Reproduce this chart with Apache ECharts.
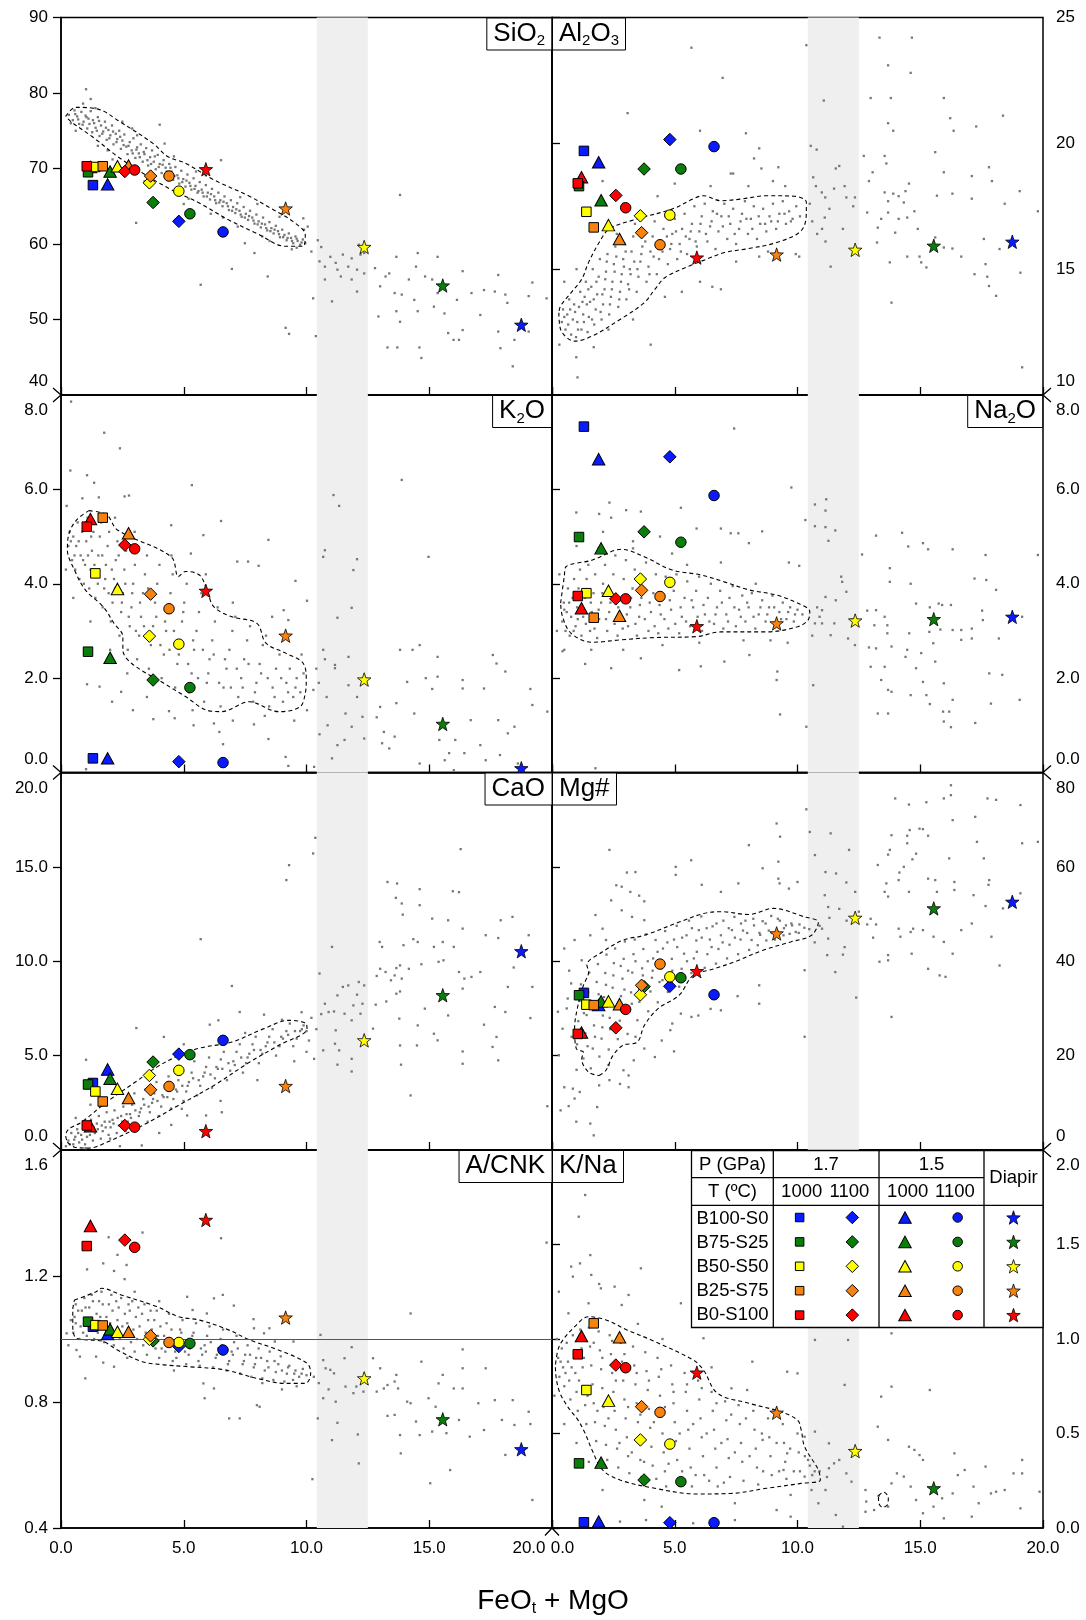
<!DOCTYPE html>
<html>
<head>
<meta charset="utf-8">
<script src="https://cdn.jsdelivr.net/npm/echarts@6/dist/echarts.min.js"></script>
<style>
  html, body { margin: 0; padding: 0; background: #fff; }
  #chart { width: 1086px; height: 1620px; }
</style>
</head>
<body>
<div id="chart"></div>
<script>
// ---- data ----
var compositions = ['B100-S0', 'B75-S25', 'B50-S50', 'B25-S75', 'B0-S100'];
var compColors = ['#0a1cff', '#0b7d0b', '#ffff00', '#f7820f', '#ff0000'];

// FeOt + MgO of each run, per condition (order: compositions)
// sq = 1.7 GPa 1000, di = 1.7 GPa 1100, tr = 1.5 GPa 1000, ci = 1.5 GPa 1100, st = diapir
var runX = {
  sq: [1.3, 1.1, 1.4, 1.7, 1.05],
  di: [4.8, 3.75, 3.6, 3.65, 2.6],
  tr: [1.9, 2.0, 2.3, 2.75, 1.2],
  ci: [6.6, 5.25, 4.8, 4.4, 3.0],
  st: [18.75, 15.55, 12.35, 9.15, 5.9]
};

var sio2Runs = { sq: [67.8, 69.5, 70.2, 70.3, 70.3], di: [63.0, 65.5, 68.1, 69.0, 69.6], tr: [67.9, 69.6, 70.3, 70.4, 70.2], ci: [61.6, 64.0, 67.0, 69.0, 69.8], st: [49.3, 54.5, 59.6, 64.7, 69.9] };
var al2o3Runs = { sq: [19.7, 18.3, 17.28, 16.66, 18.41], di: [20.15, 18.98, 17.12, 16.45, 17.93], tr: [19.25, 17.74, 16.75, 16.2, 18.65], ci: [19.87, 18.98, 17.15, 15.97, 17.44], st: [16.09, 15.93, 15.77, 15.58, 15.46] };
var k2oRuns = { sq: [0.30, 2.56, 4.22, 5.40, 5.21], di: [0.23, 1.96, 2.89, 3.78, 4.82], tr: [0.30, 2.43, 3.89, 5.07, 5.37], ci: [0.21, 1.80, 2.72, 3.47, 4.74], st: [0.09, 1.03, 1.97, 2.90, 3.85] };
var na2oRuns = { sq: [7.33, 4.99, 3.80, 3.28, 3.74], di: [6.69, 5.10, 4.10, 3.86, 3.68], tr: [6.64, 4.75, 3.85, 3.32, 3.48], ci: [5.87, 4.88, 4.03, 3.73, 3.68], st: [3.30, 3.25, 3.22, 3.16, 3.10] };
var caoRuns = { sq: [3.55, 3.47, 3.10, 2.57, 1.30], di: [5.08, 4.66, 3.95, 3.19, 1.30], tr: [4.27, 3.78, 3.24, 2.75, 1.26], ci: [5.81, 5.05, 4.22, 3.37, 1.21], st: [10.53, 8.2, 5.81, 3.39, 1.0] };
var mgRuns = { sq: [33.3, 32.8, 30.8, 30.7, 24.6], di: [34.7, 34.6, 32.9, 34.9, 25.9], tr: [30.7, 31.5, 31.5, 30.9, 24.9], ci: [32.9, 36.5, 36.7, 39.4, 29.8], st: [52.6, 51.2, 49.2, 45.9, 37.9] };
var acnkRuns = { sq: [1.039, 1.055, 1.044, 1.043, 1.295], di: [0.976, 0.994, 0.999, 1.010, 1.314], tr: [1.016, 1.031, 1.023, 1.023, 1.359], ci: [0.965, 0.986, 0.989, 0.989, 1.291], st: [0.650, 0.745, 0.875, 1.068, 1.378] };
var knaRuns = { sq: [0.030, 0.342, 0.730, 1.083, 0.919], di: [0.028, 0.254, 0.466, 0.642, 0.862], tr: [0.034, 0.346, 0.674, 1.009, 1.016], ci: [0.028, 0.245, 0.444, 0.612, 0.848], st: [null, 0.210, 0.407, 0.610, 0.822] };

// shaded FeOt+MgO band and A/CNK = 1 reference
var bandRange = [10.42, 12.5];
var acnkRef = 1.0;

// dashed density outlines
var sio2Outline = [[0.19,76.9],[0.6,78.1],[1.57,77.8],[2.3,76.4],[3.76,73.3],[4.34,71.6],[5.07,70.7],[6.23,68.5],[7.69,66.3],[8.56,64.7],[9.44,63.0],[9.95,61.2],[9.87,59.7],[9.15,59.7],[7.98,61.4],[6.82,63.2],[5.65,65.4],[4.49,67.2],[3.32,69.4],[2.3,71.6],[1.28,74.2],[0.41,76.2]];
var al2o3Outline = [[0.28,13.27],[0.35,12.61],[0.92,12.14],[1.63,12.34],[2.77,13.0],[3.76,13.67],[4.19,14.2],[4.61,14.67],[5.6,15.13],[6.31,15.4],[7.02,15.66],[8.02,15.82],[9.15,16.06],[10.15,16.53],[10.36,17.26],[10.36,17.66],[9.86,17.9],[8.73,17.92],[7.73,17.79],[6.88,17.72],[6.17,17.92],[5.75,17.79],[4.9,17.39],[3.48,17.0],[2.34,16.6],[1.92,16.06],[1.49,15.27],[1.21,14.6],[0.78,14.07],[0.35,13.54]];
var k2oOutline = [[1.14,5.55],[1.86,5.46],[2.3,5.14],[4.49,4.57],[4.78,4.15],[5.07,4.26],[5.65,4.18],[5.94,3.87],[6.23,3.51],[6.96,3.3],[7.98,3.16],[8.35,2.74],[9.15,2.53],[9.87,2.31],[9.99,1.96],[9.95,1.68],[9.73,1.39],[8.86,1.29],[7.98,1.46],[7.69,1.5],[6.52,1.29],[5.94,1.32],[5.07,1.61],[4.19,1.89],[2.88,2.31],[2.52,2.6],[2.52,2.88],[2.16,3.16],[1.72,3.51],[0.99,3.87],[0.55,4.29],[0.26,4.72],[0.33,5.07],[0.63,5.35]];
var na2oOutline = [[0.35,3.59],[0.5,4.15],[0.57,4.36],[1.63,4.5],[2.84,4.73],[3.76,4.57],[4.9,4.29],[6.03,4.19],[7.02,4.04],[8.02,3.87],[9.15,3.76],[10.0,3.59],[10.5,3.41],[10.43,3.23],[10.0,3.09],[8.73,2.98],[6.88,2.98],[5.89,2.88],[4.19,2.86],[2.77,2.81],[1.63,2.76],[0.78,2.95],[0.43,3.3]];
var caoOutline = [[0.26,0.41],[0.55,0.15],[1.14,0.1],[1.86,0.41],[3.32,1.3],[4.78,2.36],[6.23,3.42],[7.69,4.66],[8.86,5.54],[10.02,6.43],[9.99,6.69],[9.29,6.87],[8.27,6.43],[6.96,5.72],[5.65,5.4],[4.78,5.0],[3.9,4.39],[3.03,3.6],[1.86,2.54],[0.84,1.48],[0.33,1.12],[0.19,0.77]];
var mgOutline = [[1.92,15.8],[2.2,16.9],[2.48,20.0],[2.9,22.2],[3.48,22.9],[3.76,26.4],[4.33,30.0],[5.18,32.8],[5.75,37.0],[6.6,38.4],[7.45,39.9],[8.58,42.3],[9.72,44.1],[10.57,45.5],[10.85,48.3],[10.29,49.4],[9.01,51.2],[8.02,49.9],[6.88,50.5],[6.17,50.1],[5.18,48.3],[3.76,45.5],[2.91,44.5],[2.06,42.0],[1.42,39.2],[1.49,37.7],[1.28,34.9],[1.06,30.7],[0.92,25.7],[0.99,21.5],[1.28,20.7],[1.21,19.3],[1.49,16.5]];
var acnkOutline = [[0.55,1.124],[1.43,1.150],[1.65,1.161],[2.45,1.140],[3.9,1.103],[4.78,1.071],[5.65,1.060],[6.82,1.029],[7.69,0.997],[8.86,0.965],[10.02,0.923],[10.17,0.891],[9.95,0.859],[9.15,0.859],[7.98,0.875],[6.67,0.902],[5.21,0.912],[4.19,0.918],[3.32,0.928],[2.3,0.965],[1.72,0.992],[1.14,0.997],[0.63,1.002],[0.48,1.039],[0.48,1.092]];
var knaOutline = [[0.21,0.924],[0.14,0.854],[0.28,0.73],[0.64,0.642],[1.06,0.571],[1.35,0.501],[1.63,0.413],[2.06,0.307],[2.77,0.254],[4.19,0.21],[5.89,0.18],[7.31,0.183],[8.73,0.21],[10.15,0.236],[10.93,0.254],[10.85,0.307],[10.29,0.43],[10.15,0.519],[10.0,0.571],[9.29,0.616],[8.02,0.66],[6.74,0.713],[6.17,0.836],[5.75,0.889],[4.04,0.995],[3.05,1.048],[2.2,1.101],[1.49,1.118],[0.92,1.065],[0.35,0.977]];
var knaSmallLoop = [[13.3,0.17],[13.5,0.19],[13.7,0.16],[13.65,0.12],[13.45,0.11],[13.3,0.14]];

// grey compilation dots: dense core (two passes) + scattered
var sio2Core = [[0.32,77.1],[0.48,76.4],[0.55,77.7],[0.66,76.9],[0.74,75.9],[0.83,77.5],[0.92,76.2],[1.0,77.0],[1.07,75.3],[1.12,76.6],[1.21,77.6],[1.27,74.8],[1.35,76.0],[1.41,75.4],[1.5,76.8],[1.57,74.3],[1.63,75.7],[1.72,74.9],[1.79,76.2],[1.86,73.8],[1.93,75.1],[2.01,74.4],[2.08,75.7],[2.14,73.2],[2.23,74.6],[2.29,73.9],[2.37,75.0],[2.44,72.6],[2.5,73.7],[2.58,74.5],[2.66,72.9],[2.71,71.9],[2.8,73.5],[2.88,72.4],[2.95,74.0],[3.03,71.4],[3.1,72.8],[3.17,72.0],[3.25,73.2],[3.33,70.9],[3.4,71.9],[3.47,72.7],[3.55,70.4],[3.63,71.5],[3.71,72.4],[3.78,70.9],[3.86,69.9],[3.94,71.8],[4.02,70.6],[4.1,69.4],[4.18,71.1],[4.26,70.1],[4.33,68.9],[4.41,70.6],[4.5,69.6],[4.57,68.5],[4.66,70.2],[4.74,69.1],[4.82,68.0],[4.9,69.7],[4.98,68.6],[5.07,67.6],[5.15,69.2],[5.23,68.1],[5.31,67.2],[5.4,68.7],[5.48,67.7],[5.56,66.8],[5.65,68.2],[5.73,67.2],[5.81,66.3],[5.9,67.8],[5.98,66.8],[6.07,65.9],[6.15,67.3],[6.24,66.3],[6.32,65.4],[6.41,66.8],[6.49,65.8],[6.58,65.0],[6.66,66.3],[6.75,65.4],[6.84,64.5],[6.92,65.8],[7.01,64.9],[7.1,64.1],[7.18,65.4],[7.27,64.4],[7.36,63.6],[7.44,64.9],[7.53,64.0],[7.62,63.2],[7.7,64.4],[7.79,63.5],[7.88,62.7],[7.96,63.9],[8.05,63.0],[8.14,62.2],[8.23,63.5],[8.31,62.6],[8.4,61.8],[8.49,62.9],[8.57,62.1],[8.66,61.4],[8.75,62.4],[8.84,61.7],[8.92,60.9],[9.01,61.9],[9.1,61.2],[9.19,60.5],[9.28,61.4],[9.37,60.8],[9.46,60.1],[9.55,61.0],[9.64,60.4],[9.74,59.9],[9.85,60.6],[9.95,60.1],[0.9,78.6],[1.4,78.0],[2.5,76.2],[3.1,74.4],[4.6,71.6],[5.9,69.1],[7.3,66.2],[8.9,63.6],[1.9,72.4],[3.7,68.7],[5.2,66.0],[6.6,63.5],[8.2,61.0],[9.6,59.5]];
var sio2Core2 = [[0.4,76.0],[0.58,77.2],[0.7,76.5],[0.88,75.8],[1.04,76.8],[1.16,75.9],[1.3,76.4],[1.46,75.0],[1.55,76.3],[1.68,74.6],[1.83,75.4],[1.97,74.0],[2.12,74.9],[2.26,73.5],[2.41,74.2],[2.55,73.1],[2.75,73.0],[2.92,72.0],[3.07,72.5],[3.21,71.5],[3.37,72.2],[3.52,71.1],[3.67,70.6],[3.82,71.6],[3.98,70.2],[4.14,70.5],[4.3,69.6],[4.46,70.1],[4.62,69.0],[4.78,68.7],[4.94,68.2],[5.11,68.4],[5.27,67.7],[5.44,67.3],[5.6,67.0],[5.77,66.8],[5.94,66.3],[6.11,66.6],[6.28,65.8],[6.45,65.5],[6.62,65.6],[6.8,65.0],[6.97,64.4],[7.14,64.6],[7.32,63.9],[7.49,63.5],[7.66,63.7],[7.84,63.1],[8.01,62.6],[8.18,62.7],[8.36,62.1],[8.53,61.7],[8.7,61.9],[8.88,61.3],[9.05,60.9],[9.23,60.8],[9.41,60.4],[9.6,60.7],[9.8,60.2]];
var sio2Spread = [[1.02,80.5],[1.21,79.2],[4.02,75.8],[4.22,73.3],[6.52,71.1],[3.06,62.8],[5.69,54.6],[6.96,56.7],[8.42,55.7],[7.88,58.8],[7.49,60.1],[9.87,63.4],[10.05,62.3],[10.46,60.5],[9.15,48.9],[9.29,48.1],[10.27,52.8],[10.38,47.8],[11.04,52.4],[10.53,57.7],[10.75,57.0],[10.97,58.3],[11.19,57.5],[11.26,56.6],[11.48,58.6],[11.7,57.0],[11.84,58.1],[12.06,56.6],[12.2,58.6],[12.35,56.1],[11.84,55.3],[11.4,55.7],[10.75,55.3],[12.06,53.7],[12.13,59.9],[12.35,58.8],[12.79,56.8],[13.0,54.4],[13.22,55.7],[13.37,56.1],[13.66,58.3],[13.59,53.5],[13.66,51.1],[13.81,49.7],[13.88,53.3],[14.17,55.3],[14.53,58.8],[14.46,57.0],[14.39,52.6],[14.53,51.1],[14.83,55.7],[15.12,55.3],[15.34,58.3],[15.34,53.5],[15.19,51.7],[15.62,50.8],[15.77,48.2],[15.99,47.3],[16.21,47.3],[16.13,52.6],[16.36,56.4],[16.36,48.6],[16.72,53.5],[17.08,50.6],[17.23,53.9],[17.67,53.7],[17.81,55.9],[17.81,48.4],[18.1,53.3],[18.18,52.2],[18.4,43.8],[18.47,47.3],[19.05,53.1],[19.2,54.9],[19.05,48.4],[19.78,52.8],[13.3,46.3],[13.7,46.3],[14.6,46.3],[14.68,44.9],[13.81,66.5],[12.93,50.4],[17.9,46.2],[2.1,71.2],[1.5,73.0],[0.6,75.0],[3.4,68.3],[5.0,65.3],[6.1,64.0],[7.2,62.3],[8.5,60.4],[9.4,59.3],[10.2,59.0],[10.6,59.6],[2.9,75.3],[5.5,69.6],[8.0,65.3],[9.9,61.9]];

var al2o3Core = [[0.4,12.9],[0.45,13.4],[0.55,12.6],[0.62,13.2],[0.7,13.8],[0.78,12.4],[0.85,13.0],[0.9,13.6],[0.98,12.3],[1.03,12.9],[1.1,13.5],[1.15,14.1],[1.2,12.6],[1.27,13.2],[1.33,13.9],[1.38,14.5],[1.45,12.5],[1.5,13.1],[1.55,13.7],[1.6,14.3],[1.66,15.0],[1.72,12.8],[1.78,13.4],[1.84,14.0],[1.9,14.7],[1.95,15.4],[2.02,13.0],[2.08,13.6],[2.14,14.2],[2.2,14.9],[2.26,15.6],[2.33,13.2],[2.4,13.9],[2.46,14.5],[2.52,15.2],[2.58,15.9],[2.64,16.4],[2.7,13.5],[2.77,14.1],[2.84,14.8],[2.9,15.4],[2.96,16.0],[3.03,13.8],[3.1,14.4],[3.17,15.0],[3.24,15.7],[3.31,16.3],[3.38,16.8],[3.45,14.1],[3.52,14.7],[3.6,15.3],[3.68,15.9],[3.76,16.5],[3.85,14.5],[3.93,15.1],[4.01,15.7],[4.1,16.3],[4.18,16.9],[4.27,14.8],[4.36,15.4],[4.45,16.0],[4.54,16.6],[4.63,17.1],[4.72,15.2],[4.81,15.8],[4.9,16.4],[5.0,17.0],[5.1,15.4],[5.2,16.0],[5.3,16.6],[5.4,17.2],[5.5,15.6],[5.6,16.2],[5.7,16.8],[5.8,17.5],[5.9,15.9],[6.0,16.5],[6.1,17.1],[6.22,17.6],[6.33,16.1],[6.44,16.7],[6.55,17.3],[6.66,15.8],[6.78,16.5],[6.9,17.1],[7.02,17.6],[7.14,16.2],[7.26,16.8],[7.38,17.4],[7.5,16.0],[7.62,16.6],[7.74,17.2],[7.86,17.7],[7.98,16.4],[8.1,17.0],[8.22,17.5],[8.35,16.2],[8.48,16.8],[8.6,17.4],[8.73,16.5],[8.86,17.1],[9.0,17.6],[9.13,16.6],[9.26,17.2],[9.4,17.7],[9.53,16.8],[9.66,17.3],[9.8,17.0],[9.95,17.5],[10.1,17.1]];
var al2o3Core2 = [[0.5,13.1],[0.66,12.8],[0.74,13.4],[0.94,13.3],[1.06,12.6],[1.24,13.7],[1.3,12.9],[1.42,13.6],[1.48,14.2],[1.63,13.0],[1.7,13.8],[1.81,14.5],[1.98,13.3],[2.05,14.0],[2.17,14.6],[2.23,15.3],[2.36,13.6],[2.44,14.2],[2.55,14.9],[2.62,15.5],[2.74,13.8],[2.81,14.5],[2.93,15.1],[3.0,15.7],[3.14,14.2],[3.2,14.8],[3.35,15.3],[3.48,15.0],[3.64,15.6],[3.8,16.1],[3.97,14.8],[4.14,15.5],[4.32,16.1],[4.5,15.7],[4.68,16.3],[4.86,16.0],[5.05,16.5],[5.25,15.7],[5.45,16.3],[5.65,16.5],[5.85,16.1],[6.05,16.8],[6.27,16.4],[6.5,16.9],[6.72,17.2],[6.96,16.7],[7.2,17.1],[7.44,16.4],[7.68,16.9],[7.92,17.0],[8.16,16.6],[8.42,17.1],[8.68,16.8],[8.93,16.9],[9.2,16.9],[9.47,17.2],[9.73,16.9]];
var al2o3Spread = [[5.68,23.8],[6.95,22.6],[3.08,21.2],[6.03,20.5],[7.9,20.4],[8.44,19.8],[8.23,19.4],[9.22,19.05],[8.53,19.0],[7.38,18.8],[7.28,18.8],[6.46,18.3],[2.06,18.5],[0.99,11.5],[1.04,10.7],[4.02,12.0],[1.7,11.9],[6.03,14.5],[5.29,14.1],[6.88,14.2],[6.53,14.3],[8.44,15.5],[9.93,15.6],[10.07,15.5],[10.36,23.9],[11.07,21.7],[10.54,19.9],[10.78,19.75],[10.64,18.65],[10.75,18.3],[10.99,18.05],[11.13,17.85],[11.11,17.05],[11.49,18.2],[11.56,19.0],[11.7,19.1],[11.92,18.3],[11.99,17.85],[11.85,16.6],[12.27,17.5],[12.34,17.85],[11.14,16.1],[11.35,15.1],[12.7,19.5],[12.98,21.8],[13.69,23.1],[13.34,24.2],[14.66,24.2],[14.61,22.8],[13.8,21.8],[13.69,20.8],[13.9,20.5],[13.55,19.5],[13.62,19.2],[13.06,18.85],[12.91,18.5],[13.55,18.05],[13.9,18.0],[14.12,17.9],[13.69,17.7],[14.54,18.4],[14.4,18.1],[14.33,17.65],[12.84,17.25],[13.41,17.0],[13.69,17.25],[14.12,17.0],[14.47,17.05],[14.76,17.3],[13.27,16.65],[13.98,16.45],[13.24,16.06],[13.76,15.27],[14.47,15.5],[14.9,16.6],[14.97,15.5],[15.04,15.27],[15.25,15.07],[15.61,16.26],[15.68,17.92],[15.96,18.85],[15.61,19.65],[15.96,21.8],[16.22,21.0],[16.36,20.5],[16.31,18.0],[15.96,15.86],[16.31,15.82],[16.67,15.5],[17.1,18.7],[17.1,17.8],[17.28,20.67],[17.8,19.05],[17.92,18.5],[18.37,21.1],[18.44,17.6],[17.59,16.2],[17.21,14.8],[17.66,15.2],[17.73,14.7],[17.8,14.33],[18.09,13.94],[18.23,15.8],[19.08,14.86],[19.05,18.1],[19.15,11.1],[19.79,17.3],[13.83,13.67],[10.5,17.6],[10.6,16.9],[10.8,16.4],[11.3,17.4],[9.5,18.3],[9.0,18.5],[8.0,18.3],[5.0,18.4],[4.3,17.9],[2.9,17.6],[1.0,15.0],[0.5,14.5],[0.3,12.0],[2.3,12.6],[3.3,13.0],[4.6,13.9],[7.5,15.3],[8.8,15.7],[11.0,16.6]];

var k2oCore = [[0.3,4.8],[0.35,5.1],[0.45,4.5],[0.5,5.0],[0.58,4.3],[0.62,4.8],[0.68,5.3],[0.75,4.1],[0.8,4.6],[0.86,5.1],[0.93,4.0],[0.98,4.4],[1.03,4.9],[1.08,5.4],[1.15,3.9],[1.2,4.3],[1.26,4.7],[1.32,5.1],[1.4,3.7],[1.46,4.2],[1.52,4.6],[1.58,5.0],[1.64,5.3],[1.7,3.5],[1.76,3.9],[1.83,4.4],[1.9,4.8],[1.96,5.1],[2.03,3.2],[2.1,3.6],[2.16,4.1],[2.23,4.5],[2.3,4.9],[2.38,2.9],[2.45,3.4],[2.52,3.8],[2.58,4.3],[2.65,4.7],[2.72,2.6],[2.8,3.1],[2.87,3.5],[2.94,4.0],[3.01,4.4],[3.1,2.4],[3.18,2.9],[3.26,3.3],[3.34,3.8],[3.42,4.2],[3.5,4.6],[3.58,2.2],[3.66,2.7],[3.75,3.1],[3.83,3.6],[3.92,4.0],[4.01,4.4],[4.1,2.0],[4.19,2.5],[4.28,3.0],[4.37,3.4],[4.46,3.8],[4.55,4.2],[4.65,1.8],[4.74,2.3],[4.84,2.8],[4.93,3.2],[5.02,3.6],[5.12,4.0],[5.22,1.7],[5.32,2.1],[5.42,2.6],[5.52,3.0],[5.62,3.4],[5.72,3.8],[5.83,1.5],[5.94,1.9],[6.05,2.4],[6.16,2.8],[6.27,3.2],[6.38,3.5],[6.5,1.4],[6.62,1.8],[6.74,2.2],[6.86,2.6],[6.98,3.0],[7.1,3.3],[7.22,1.6],[7.34,2.0],[7.46,2.4],[7.58,2.8],[7.7,3.1],[7.83,1.5],[7.96,1.9],[8.09,2.3],[8.22,2.7],[8.35,2.9],[8.48,1.4],[8.62,1.8],[8.76,2.2],[8.9,2.5],[9.04,1.5],[9.18,1.9],[9.32,2.2],[9.46,1.6],[9.6,2.0],[9.75,1.7],[9.88,2.1]];
var k2oCore2 = [[0.4,4.9],[0.55,4.6],[0.72,4.9],[0.9,4.5],[1.1,4.6],[1.23,5.0],[1.36,4.4],[1.5,4.0],[1.68,4.6],[1.8,4.1],[1.94,3.8],[2.07,4.3],[2.2,3.9],[2.35,4.6],[2.48,3.6],[2.62,4.0],[2.76,3.3],[2.9,3.8],[3.05,3.0],[3.22,3.6],[3.38,3.1],[3.55,3.9],[3.7,2.9],[3.88,3.3],[4.05,2.7],[4.24,3.2],[4.42,2.6],[4.6,3.0],[4.8,2.5],[4.98,3.4],[5.18,2.3],[5.38,2.8],[5.58,2.0],[5.78,2.6],[6.0,2.1],[6.22,2.5],[6.44,1.9],[6.68,2.4],[6.92,1.8],[7.16,2.2],[7.4,1.8],[7.64,2.3],[7.9,1.7],[8.15,2.1],[8.42,2.0],[8.7,1.6],[8.97,2.0],[9.25,1.7],[9.55,1.8]];
var k2oSpread = [[0.41,7.86],[1.76,7.2],[2.4,6.87],[0.38,6.4],[1.06,6.3],[1.35,6.14],[0.23,5.65],[0.87,5.81],[1.54,5.83],[2.59,5.85],[2.77,5.87],[5.33,6.09],[6.52,5.33],[4.49,5.24],[5.8,5.03],[5.29,4.64],[7.18,4.47],[7.62,4.47],[8.05,4.38],[8.45,4.93],[9.55,4.06],[10.02,3.64],[9.07,3.44],[9.26,3.23],[1.06,1.87],[1.57,1.82],[1.02,0.07],[2.08,1.5],[2.45,1.71],[2.93,1.32],[3.76,1.13],[4.63,1.15],[5.36,1.32],[6.23,1.04],[6.45,0.86],[6.6,0.6],[7.86,1.02],[8.45,0.71],[9.15,0.33],[9.26,0.14],[10.02,1.32],[10.28,1.75],[10.31,0.12],[10.53,0.81],[10.68,4.57],[10.75,4.71],[11.1,5.88],[11.33,5.65],[11.26,3.28],[11.84,3.49],[11.91,4.29],[12.06,4.52],[10.68,2.6],[10.75,2.4],[11.16,2.28],[11.16,2.21],[11.71,2.45],[11.71,1.85],[10.82,1.6],[10.86,1.0],[11.04,0.3],[11.26,0.58],[11.55,0.69],[11.59,1.25],[11.84,0.97],[12.06,1.6],[12.28,1.18],[12.35,0.72],[12.86,1.17],[13.0,1.39],[13.15,0.86],[13.08,0.62],[13.37,0.51],[13.59,0.76],[13.66,1.47],[13.81,2.6],[13.88,6.2],[14.1,1.92],[14.32,2.6],[14.39,1.25],[14.61,2.7],[14.61,0.19],[14.86,2.0],[14.97,4.57],[15.12,1.77],[15.34,2.45],[15.34,2.03],[15.41,0.69],[15.63,0.26],[15.81,0.41],[16.0,0.05],[16.06,0.69],[16.36,1.96],[16.36,1.78],[16.43,0.41],[16.69,1.11],[17.08,0.58],[17.23,1.78],[17.3,0.26],[17.59,2.49],[17.74,2.31],[17.81,1.11],[17.88,0.37],[18.1,2.14],[18.2,0.83],[18.47,0.97],[18.61,0.19],[19.12,1.77],[19.2,1.43],[19.81,1.29],[10.4,2.2],[10.5,1.9],[9.8,2.5],[8.6,3.3],[7.0,3.6],[5.9,4.2],[4.5,4.6],[3.0,5.1],[2.2,5.4],[0.2,4.3],[0.5,3.7],[1.2,3.2],[2.0,2.6],[2.7,2.1],[3.5,1.6],[4.4,1.3],[5.4,1.0],[7.0,1.1],[8.3,1.2],[9.5,1.1]];

var na2oCore = [[0.42,3.2],[0.48,3.6],[0.55,3.0],[0.6,3.4],[0.65,3.9],[0.72,2.9],[0.78,3.3],[0.84,3.7],[0.9,4.1],[0.96,3.1],[1.02,3.5],[1.08,3.9],[1.14,4.3],[1.2,2.9],[1.27,3.3],[1.34,3.7],[1.41,4.1],[1.48,4.4],[1.55,3.0],[1.62,3.4],[1.69,3.8],[1.76,4.2],[1.84,2.85],[1.92,3.25],[2.0,3.6],[2.08,4.0],[2.16,4.4],[2.25,3.0],[2.33,3.4],[2.41,3.8],[2.5,4.2],[2.58,4.6],[2.67,2.9],[2.75,3.3],[2.84,3.7],[2.92,4.1],[3.01,4.5],[3.1,3.1],[3.19,3.5],[3.28,3.9],[3.37,4.3],[3.46,2.9],[3.55,3.3],[3.64,3.7],[3.74,4.1],[3.83,4.45],[3.93,3.0],[4.03,3.4],[4.13,3.8],[4.23,4.2],[4.33,2.95],[4.43,3.35],[4.53,3.75],[4.63,4.15],[4.74,3.05],[4.85,3.45],[4.96,3.85],[5.07,4.2],[5.18,2.95],[5.29,3.3],[5.4,3.7],[5.51,4.05],[5.63,3.1],[5.75,3.5],[5.87,3.85],[5.99,4.15],[6.11,3.0],[6.23,3.35],[6.35,3.7],[6.47,4.0],[6.6,3.15],[6.72,3.5],[6.85,3.85],[6.98,3.05],[7.1,3.35],[7.23,3.7],[7.36,3.95],[7.49,3.1],[7.62,3.45],[7.75,3.75],[7.88,3.2],[8.01,3.5],[8.14,3.8],[8.28,3.05],[8.42,3.35],[8.56,3.65],[8.7,3.2],[8.84,3.5],[8.98,3.75],[9.12,3.1],[9.26,3.4],[9.4,3.6],[9.55,3.25],[9.7,3.5],[9.85,3.2],[10.0,3.45],[10.2,3.35],[0.5,2.6],[1.6,2.6],[2.9,2.6],[4.5,2.7],[6.0,2.75],[7.8,2.8],[3.3,4.75],[1.9,4.75],[5.5,4.4],[8.3,4.0]];
var na2oCore2 = [[0.5,3.45],[0.7,3.6],[0.88,3.0],[1.05,3.25],[1.22,3.55],[1.38,3.15],[1.58,3.6],[1.73,3.05],[1.9,3.45],[2.05,3.8],[2.2,3.25],[2.38,3.6],[2.55,3.15],[2.7,3.5],[2.88,3.05],[3.05,3.35],[3.22,3.7],[3.4,3.15],[3.58,3.55],[3.78,3.25],[3.98,3.6],[4.18,3.1],[4.38,3.55],[4.58,3.25],[4.8,3.65],[5.02,3.15],[5.24,3.5],[5.46,3.2],[5.69,3.65],[5.93,3.3],[6.17,3.55],[6.41,3.2],[6.66,3.35],[6.92,3.6],[7.17,3.2],[7.43,3.5],[7.69,3.3],[7.95,3.6],[8.21,3.3],[8.49,3.5],[8.77,3.35],[9.05,3.5],[9.33,3.25],[9.62,3.4],[9.9,3.35]];
var na2oSpread = [[7.42,7.29],[9.75,6.04],[10.71,5.68],[11.17,5.79],[11.14,5.55],[10.32,5.35],[10.71,5.22],[11.14,5.2],[11.54,5.13],[11.26,4.91],[0.99,5.51],[1.92,5.48],[2.34,5.72],[3.02,5.56],[3.62,5.53],[2.41,5.4],[2.08,5.1],[5.25,5.61],[4.89,4.64],[5.89,5.17],[6.88,5.17],[7.28,5.07],[7.59,5.07],[8.56,5.11],[8.02,4.86],[6.88,4.45],[9.65,4.45],[10.07,4.38],[12.63,4.62],[13.2,5.02],[14.26,5.08],[14.51,4.79],[15.11,4.86],[15.32,4.73],[16.32,4.73],[17.66,4.61],[19.79,4.61],[17.21,4.11],[17.69,4.08],[18.09,3.87],[17.52,3.43],[16.25,3.55],[15.89,3.55],[14.83,3.58],[14.61,4.0],[13.76,4.04],[13.76,4.33],[11.78,4.15],[11.82,4.04],[11.99,3.83],[11.14,3.72],[11.56,3.65],[11.0,3.44],[10.71,3.16],[11.0,3.16],[11.5,3.16],[11.35,2.91],[12.06,2.84],[12.34,2.7],[12.84,3.43],[13.2,3.44],[13.55,3.3],[13.13,3.12],[13.66,3.12],[13.66,2.95],[13.83,2.67],[12.91,2.65],[13.2,2.63],[12.98,2.24],[13.55,2.24],[13.41,1.96],[13.69,1.75],[13.83,1.71],[13.27,1.25],[13.69,1.25],[14.55,2.95],[14.47,2.6],[14.4,2.45],[14.61,1.64],[14.83,2.21],[15.04,2.53],[15.11,1.92],[15.25,1.64],[15.39,1.45],[15.61,2.35],[15.53,2.74],[15.96,1.89],[15.93,1.29],[15.96,1.08],[16.18,1.29],[16.25,0.96],[16.32,1.54],[16.67,2.81],[17.1,2.84],[17.24,1.05],[17.81,2.1],[17.88,1.46],[18.2,2.84],[18.34,2.07],[19.05,1.54],[19.15,3.3],[15.75,3.58],[15.39,3.5],[15.82,3.03],[15.37,2.98],[16.32,3.02],[16.67,3.02],[17.1,3.05],[17.55,3.23],[10.36,0.97],[10.64,1.85],[9.29,1.23],[9.15,1.96],[9.18,2.14],[5.18,2.17],[6.06,2.25],[7.02,2.35],[8.04,2.49],[2.41,2.21],[1.35,2.3],[0.43,2.57],[1.77,0.09],[3.62,2.42],[10.8,3.5],[10.9,3.3],[10.6,2.9],[12.2,3.25],[9.6,2.75],[8.9,2.8],[1.0,4.8],[3.3,4.9],[4.4,5.0],[0.3,4.2],[0.2,3.0]];

var caoCore = [[0.3,0.5],[0.42,0.9],[0.5,0.3],[0.58,0.7],[0.66,1.1],[0.74,0.4],[0.82,0.8],[0.9,1.3],[0.98,0.3],[1.06,0.7],[1.14,1.1],[1.22,1.6],[1.3,0.5],[1.38,0.9],[1.46,1.4],[1.54,1.8],[1.62,0.6],[1.7,1.0],[1.78,1.5],[1.86,2.0],[1.94,0.8],[2.02,1.2],[2.1,1.6],[2.18,2.1],[2.27,0.9],[2.36,1.3],[2.45,1.8],[2.54,2.3],[2.63,1.0],[2.72,1.5],[2.81,1.9],[2.9,2.4],[2.99,3.0],[3.08,1.3],[3.17,1.8],[3.26,2.2],[3.35,2.7],[3.44,3.2],[3.53,1.5],[3.62,2.0],[3.71,2.5],[3.8,3.0],[3.89,3.6],[3.98,1.8],[4.08,2.3],[4.18,2.8],[4.28,3.3],[4.38,3.9],[4.48,2.2],[4.58,2.7],[4.68,3.2],[4.78,3.7],[4.88,4.3],[4.99,2.6],[5.1,3.1],[5.21,3.6],[5.32,4.1],[5.43,4.7],[5.55,2.9],[5.67,3.4],[5.79,3.9],[5.91,4.4],[6.03,4.9],[6.15,3.3],[6.27,3.8],[6.39,4.3],[6.51,4.8],[6.63,5.2],[6.76,3.7],[6.89,4.2],[7.02,4.7],[7.15,5.2],[7.28,5.6],[7.41,4.1],[7.54,4.6],[7.67,5.1],[7.8,5.6],[7.93,6.0],[8.06,4.6],[8.2,5.1],[8.34,5.5],[8.48,6.0],[8.62,6.4],[8.76,5.0],[8.9,5.5],[9.04,5.9],[9.18,6.3],[9.32,6.7],[9.46,5.5],[9.6,5.9],[9.74,6.3],[9.88,6.6],[10.0,6.3],[1.0,0.1],[2.0,0.6],[3.0,1.0],[0.2,0.2]];
var caoCore2 = [[0.36,0.3],[0.54,0.55],[0.7,0.9],[0.86,0.55],[1.02,1.0],[1.18,0.8],[1.34,1.2],[1.5,1.1],[1.66,1.3],[1.82,1.2],[1.98,1.5],[2.14,1.4],[2.31,1.7],[2.49,1.5],[2.67,1.9],[2.85,1.7],[3.03,2.1],[3.21,2.0],[3.39,2.4],[3.57,2.3],[3.75,2.7],[3.93,2.6],[4.13,2.9],[4.33,2.8],[4.53,3.3],[4.73,3.1],[4.94,3.4],[5.16,3.4],[5.38,3.8],[5.61,3.7],[5.85,4.1],[6.09,4.0],[6.33,4.4],[6.57,4.3],[6.82,4.6],[7.08,4.5],[7.34,4.9],[7.6,4.9],[7.86,5.3],[8.13,5.3],[8.41,5.7],[8.69,5.7],[8.97,6.0],[9.25,6.1],[9.53,6.3],[9.81,6.4]];
var caoSpread = [[10.36,16.54],[10.27,15.71],[9.29,15.09],[9.18,14.3],[5.69,11.17],[6.96,8.69],[7.28,7.31],[8.27,7.17],[6.41,6.87],[6.06,6.64],[4.19,5.99],[3.07,6.46],[1.02,4.78],[4.49,1.33],[4.92,2.18],[5.14,1.83],[5.91,1.83],[6.55,2.0],[3.29,0.24],[10.53,9.35],[11.04,10.76],[10.75,7.75],[10.9,7.31],[11.12,7.34],[11.26,8.19],[11.48,8.64],[11.7,8.72],[11.91,7.66],[11.55,7.22],[12.13,8.9],[12.35,8.72],[12.06,8.23],[12.28,7.75],[12.2,7.22],[11.84,6.87],[11.19,6.34],[11.33,5.28],[11.16,5.63],[10.68,5.28],[10.31,4.83],[11.26,4.52],[11.84,4.83],[11.84,4.16],[12.71,6.43],[12.86,9.22],[12.98,11.02],[13.08,10.76],[13.3,14.2],[13.69,14.12],[13.64,13.36],[13.88,13.06],[13.0,9.6],[13.22,9.43],[13.44,8.99],[13.59,9.25],[13.66,9.64],[13.88,9.08],[13.81,9.78],[14.17,9.6],[14.35,11.17],[14.53,11.02],[14.61,13.82],[14.61,12.97],[13.92,12.47],[14.68,9.84],[13.95,10.85],[13.81,8.4],[13.66,8.28],[13.78,6.96],[13.25,7.87],[12.82,7.7],[13.81,5.54],[13.85,4.52],[14.24,2.89],[14.53,6.6],[14.5,5.54],[14.82,7.49],[15.12,12.26],[15.19,10.76],[15.38,9.97],[15.55,11.02],[15.58,10.05],[15.77,12.17],[15.96,13.71],[16.21,13.66],[16.28,15.94],[16.36,11.73],[16.0,10.76],[16.21,9.43],[16.36,8.55],[15.77,7.13],[15.19,6.16],[15.34,5.81],[16.36,5.22],[16.36,4.57],[16.43,9.08],[16.72,9.17],[17.08,9.43],[17.23,6.64],[17.3,11.38],[17.81,11.23],[17.67,7.58],[17.74,5.99],[17.58,5.46],[17.81,4.75],[17.91,12.17],[18.1,7.31],[18.2,8.64],[18.39,12.35],[18.44,9.67],[19.05,11.38],[19.12,6.99],[19.2,8.64],[19.81,2.32],[10.2,7.0],[10.4,6.4],[10.6,7.2],[10.1,5.8],[9.8,7.3],[9.0,6.9],[7.5,6.2],[5.0,5.6],[3.8,4.8],[2.2,3.0],[1.2,2.4],[0.6,1.7],[2.4,0.2],[4.0,0.9],[6.5,2.6],[8.0,3.7],[9.5,4.7],[10.0,5.2]];

var mgCore = [[1.02,22.4],[1.07,27.3],[1.12,31.6],[1.18,35.1],[1.28,19.4],[1.36,24.7],[1.41,28.6],[1.47,33.5],[1.52,37.6],[1.58,17.3],[1.66,21.5],[1.71,26.4],[1.77,30.5],[1.82,35.6],[1.87,39.4],[1.93,19.8],[2.02,23.6],[2.07,28.5],[2.12,32.4],[2.17,37.5],[2.22,41.4],[2.31,21.3],[2.37,25.6],[2.42,30.7],[2.47,34.4],[2.52,39.6],[2.57,42.7],[2.68,23.5],[2.76,27.4],[2.81,32.6],[2.87,36.3],[2.92,40.5],[2.97,44.2],[3.08,24.6],[3.16,29.5],[3.22,33.4],[3.27,37.6],[3.32,41.5],[3.37,44.6],[3.48,27.5],[3.56,31.4],[3.62,35.6],[3.67,38.5],[3.72,42.6],[3.82,45.7],[3.92,29.4],[4.01,33.6],[4.07,36.5],[4.12,40.6],[4.22,44.5],[4.31,31.3],[4.38,35.6],[4.46,38.5],[4.52,42.7],[4.61,46.4],[4.72,33.5],[4.79,36.6],[4.88,40.5],[4.97,44.6],[5.08,47.5],[5.18,34.6],[5.28,38.4],[5.38,41.6],[5.48,45.5],[5.58,48.6],[5.68,37.5],[5.78,40.6],[5.88,44.4],[5.98,46.6],[6.08,49.5],[6.22,38.6],[6.33,41.5],[6.43,44.6],[6.54,47.4],[6.68,39.5],[6.78,42.6],[6.88,45.5],[6.98,48.6],[7.13,40.6],[7.23,43.5],[7.33,46.6],[7.43,49.4],[7.58,41.5],[7.68,44.6],[7.78,46.5],[7.88,48.6],[8.03,42.4],[8.13,44.5],[8.23,47.6],[8.38,43.4],[8.48,45.6],[8.58,48.5],[8.73,44.4],[8.83,46.5],[8.93,49.6],[9.08,44.6],[9.18,46.4],[9.28,48.6],[9.43,45.5],[9.53,47.6],[9.68,45.8],[9.78,47.6],[9.93,46.2],[10.08,47.8],[10.28,47.1],[10.48,46.8]];
var mgCore2 = [[1.15,25],[1.3,29],[1.45,22],[1.6,31],[1.75,24],[1.9,33],[2.05,26],[2.2,35],[2.35,28],[2.5,37],[2.65,30],[2.8,39],[2.95,34],[3.1,38],[3.25,31],[3.4,40],[3.55,34],[3.7,37],[3.9,40],[4.1,38],[4.3,42],[4.5,36],[4.7,44],[4.9,38],[5.1,43],[5.3,45],[5.5,40],[5.7,47],[5.9,42],[6.1,45],[6.3,47],[6.5,43],[6.7,48],[6.95,44],[7.2,47],[7.45,45],[7.7,48],[7.95,46],[8.2,49],[8.45,46],[8.7,48],[8.95,46],[9.2,49],[9.45,47],[9.75,48],[10.05,46]];
var mgSpread = [[0.68,9.3],[1.7,3.1],[0.35,8.4],[0.92,10.9],[1.13,12.3],[0.85,13.0],[1.56,5.6],[1.84,9.1],[0.99,6.0],[0.5,13.3],[0.28,20.1],[0.43,25.7],[0.24,29.3],[0.64,32.1],[0.78,35.3],[0.5,42.7],[0.92,44.5],[1.21,40.2],[2.34,63.6],[3.05,58.8],[3.4,58.9],[2.62,56.1],[2.84,55.8],[3.19,54.7],[3.55,53.9],[3.76,52.7],[2.41,52.9],[2.84,50.8],[3.26,49.4],[3.76,48.7],[1.77,49.8],[2.06,46.9],[2.2,44.5],[1.56,45.5],[5.04,60.0],[5.04,58.3],[5.67,61.4],[6.1,56.2],[6.88,54.7],[7.59,56.5],[8.02,64.6],[8.58,59.7],[9.15,69.2],[9.29,66.4],[9.22,61.1],[9.22,57.5],[9.27,56.5],[9.65,55.4],[10.0,56.8],[10.36,72.2],[10.5,67.4],[10.71,62.5],[11.14,58.9],[11.35,67.1],[11.57,58.6],[12.1,63.6],[11.99,56.7],[12.35,54.7],[11.11,54.0],[11.25,51.5],[11.7,51.1],[11.0,46.9],[11.25,44.8],[11.92,43.0],[11.85,41.4],[11.21,41.3],[11.54,37.7],[10.29,38.1],[8.44,34.9],[8.44,31.0],[7.56,32.6],[6.88,29.6],[6.46,29.9],[5.96,28.5],[5.68,28.2],[5.25,28.9],[4.9,26.8],[4.82,25.4],[4.47,23.2],[4.19,19.7],[4.97,20.9],[3.76,21.5],[3.33,19.0],[2.91,16.9],[3.12,15.8],[2.77,14.0],[3.12,13.3],[2.34,14.8],[1.92,13.7],[10.29,24.0],[12.39,32.3],[13.83,28.2],[12.98,49.0],[12.84,47.8],[13.2,47.8],[13.08,45.0],[13.34,39.9],[13.69,41.3],[13.69,40.2],[14.12,46.9],[14.19,45.2],[14.61,46.2],[14.65,41.6],[14.71,46.9],[15.11,46.6],[15.32,38.4],[15.79,37.0],[16.03,36.7],[15.54,45.2],[15.96,44.1],[16.32,41.6],[16.67,46.6],[17.1,48.0],[17.9,45.2],[18.23,39.1],[18.37,51.2],[17.66,51.7],[13.69,53.7],[13.55,54.7],[13.62,56.5],[13.27,60.4],[13.69,62.6],[13.76,63.6],[13.83,66.7],[13.98,74.5],[14.47,65.0],[14.47,66.6],[14.57,67.8],[14.97,68.1],[15.11,68.0],[15.32,66.6],[14.83,62.8],[14.68,61.6],[14.33,60.0],[14.15,58.8],[14.12,57.2],[14.54,54.7],[15.32,57.5],[15.61,57.2],[15.68,54.7],[16.18,61.8],[16.39,56.8],[16.39,55.1],[17.17,54.0],[17.59,61.8],[17.81,57.2],[17.78,56.2],[17.31,65.3],[19.15,65.0],[19.79,65.3],[19.08,54.4],[14.54,73.2],[15.25,73.7],[15.96,74.5],[16.25,75.2],[16.25,77.3],[16.32,69.9],[17.24,70.6],[17.74,74.5],[18.09,74.2],[19.08,73.1],[10.9,47.5],[11.3,49.2],[12.0,48.6],[12.5,50.5],[10.7,44.0],[0.7,38.0],[0.6,30.0],[0.8,24.0],[1.0,17.0],[2.3,18.0],[3.4,24.0]];

var acnkCore = [[0.5,1.02],[0.55,1.07],[0.6,1.11],[0.75,1.00],[0.8,1.04],[0.85,1.09],[0.95,1.13],[1.05,1.01],[1.1,1.06],[1.15,1.10],[1.25,1.14],[1.35,1.00],[1.4,1.04],[1.45,1.08],[1.55,1.12],[1.65,1.15],[1.75,0.99],[1.8,1.03],[1.85,1.07],[1.95,1.11],[2.05,1.14],[2.15,0.98],[2.2,1.02],[2.3,1.06],[2.35,1.10],[2.45,1.13],[2.55,0.97],[2.65,1.01],[2.7,1.05],[2.8,1.09],[2.9,1.12],[3.0,0.96],[3.1,1.00],[3.2,1.04],[3.3,1.08],[3.4,1.11],[3.5,0.95],[3.6,0.99],[3.7,1.03],[3.8,1.06],[3.9,1.09],[4.0,0.94],[4.1,0.97],[4.2,1.01],[4.3,1.05],[4.4,1.08],[4.55,0.93],[4.65,0.96],[4.75,1.00],[4.85,1.03],[4.95,1.06],[5.1,0.92],[5.2,0.95],[5.3,0.99],[5.4,1.02],[5.5,1.05],[5.65,0.915],[5.75,0.95],[5.85,0.98],[5.95,1.01],[6.05,1.04],[6.2,0.91],[6.3,0.94],[6.4,0.97],[6.5,1.00],[6.6,1.03],[6.75,0.90],[6.85,0.93],[6.95,0.96],[7.05,0.99],[7.15,1.01],[7.3,0.89],[7.4,0.92],[7.5,0.95],[7.6,0.98],[7.75,0.88],[7.85,0.91],[7.95,0.94],[8.05,0.97],[8.2,0.875],[8.3,0.90],[8.4,0.93],[8.5,0.96],[8.65,0.87],[8.75,0.895],[8.85,0.92],[8.95,0.945],[9.1,0.865],[9.2,0.89],[9.3,0.915],[9.45,0.87],[9.55,0.90],[9.7,0.88],[9.85,0.905],[10.0,0.885]];
var acnkCore2 = [[0.6,1.05],[0.7,1.09],[0.9,1.02],[1.0,1.10],[1.2,1.03],[1.3,1.12],[1.5,1.02],[1.6,1.07],[1.7,1.11],[1.9,1.01],[2.0,1.05],[2.1,1.09],[2.25,1.12],[2.4,1.00],[2.5,1.04],[2.6,1.08],[2.75,1.11],[2.85,0.99],[2.95,1.03],[3.05,1.07],[3.15,1.10],[3.35,0.98],[3.45,1.02],[3.55,1.06],[3.65,1.09],[3.85,0.97],[3.95,1.01],[4.05,1.04],[4.25,0.96],[4.35,1.00],[4.5,1.03],[4.7,0.94],[4.8,0.98],[4.9,1.02],[5.05,0.96],[5.25,0.97],[5.35,1.01],[5.6,0.93],[5.7,0.97],[5.9,0.96],[6.1,0.99],[6.35,0.95],[6.55,0.98],[6.8,0.92],[7.0,0.95],[7.2,0.97],[7.45,0.93],[7.7,0.95],[7.9,0.92],[8.15,0.94],[8.45,0.91],[8.7,0.93],[9.0,0.90],[9.25,0.91],[9.5,0.89],[9.8,0.89]];
var acnkSpread = [[3.32,1.338],[1.94,1.323],[2.3,1.267],[1.06,1.221],[1.72,1.24],[2.16,1.216],[2.67,1.235],[2.59,1.19],[6.52,1.32],[6.59,1.14],[6.23,1.129],[5.14,1.134],[7.04,1.106],[5.36,1.092],[5.94,1.081],[7.84,1.063],[7.86,1.034],[8.27,1.018],[8.49,1.034],[8.71,0.992],[9.47,0.992],[10.57,1.013],[7.98,0.79],[8.09,0.785],[6.85,0.748],[7.28,0.748],[5.8,0.859],[6.23,0.843],[5.85,0.812],[0.99,0.875],[1.72,0.925],[2.16,0.912],[1.43,0.944],[0.77,0.944],[0.63,0.965],[0.23,1.018],[14.24,1.081],[10.24,0.555],[10.68,0.933],[10.78,0.907],[10.97,0.902],[11.12,0.891],[10.68,0.812],[10.46,0.748],[11.19,0.801],[11.26,0.734],[11.04,0.679],[11.55,0.939],[11.84,0.974],[11.59,0.849],[12.03,0.849],[11.91,0.828],[12.32,0.833],[12.09,0.697],[12.13,0.605],[12.71,0.939],[13.0,0.907],[12.86,0.833],[13.15,0.843],[13.3,0.854],[13.59,0.865],[13.73,0.843],[13.66,0.886],[13.3,0.756],[13.59,0.759],[13.81,0.695],[13.84,0.637],[14.1,0.801],[14.24,0.796],[14.46,0.738],[14.61,0.695],[14.68,0.928],[14.97,0.812],[15.12,0.706],[15.26,0.785],[15.38,0.859],[15.55,0.886],[15.7,0.701],[15.85,0.584],[15.04,0.542],[16.0,0.843],[16.21,0.743],[16.36,0.967],[16.36,0.907],[16.36,0.843],[16.65,0.69],[17.23,0.711],[17.0,0.796],[17.3,0.907],[17.96,0.743],[17.67,0.806],[18.4,0.806],[18.47,0.727],[18.1,0.632],[19.05,0.769],[19.12,0.73],[19.2,0.489],[19.78,1.306],[10.3,0.88],[10.5,0.86],[10.9,0.84],[9.6,0.85],[9.0,0.84],[8.2,0.86],[4.0,1.12],[3.0,1.15],[0.4,1.06],[0.3,0.98],[2.7,0.94],[4.6,0.9]];

var knaCore = [[0.25,0.90],[0.3,0.80],[0.4,0.95],[0.45,0.85],[0.5,0.75],[0.6,0.98],[0.65,0.88],[0.7,0.78],[0.75,0.68],[0.85,1.02],[0.9,0.92],[0.95,0.82],[1.0,0.72],[1.05,0.62],[1.15,1.05],[1.2,0.95],[1.25,0.85],[1.3,0.75],[1.35,0.65],[1.4,0.55],[1.5,1.06],[1.55,0.96],[1.6,0.86],[1.65,0.76],[1.7,0.66],[1.75,0.56],[1.8,0.46],[1.9,1.04],[1.95,0.94],[2.0,0.84],[2.05,0.74],[2.1,0.64],[2.15,0.54],[2.2,0.44],[2.25,0.36],[2.35,1.02],[2.4,0.92],[2.45,0.82],[2.5,0.72],[2.55,0.62],[2.6,0.52],[2.65,0.42],[2.7,0.32],[2.8,0.98],[2.85,0.88],[2.9,0.78],[2.95,0.68],[3.0,0.58],[3.05,0.48],[3.1,0.38],[3.15,0.29],[3.3,0.96],[3.35,0.86],[3.4,0.76],[3.45,0.66],[3.5,0.56],[3.55,0.46],[3.6,0.36],[3.65,0.27],[3.8,0.93],[3.85,0.83],[3.9,0.73],[3.95,0.63],[4.0,0.53],[4.05,0.43],[4.1,0.33],[4.3,0.90],[4.35,0.80],[4.4,0.70],[4.45,0.60],[4.5,0.50],[4.55,0.40],[4.6,0.30],[4.65,0.22],[4.85,0.86],[4.9,0.76],[4.95,0.66],[5.0,0.56],[5.05,0.46],[5.1,0.36],[5.15,0.26],[5.4,0.82],[5.45,0.72],[5.5,0.62],[5.55,0.52],[5.6,0.42],[5.65,0.32],[5.7,0.22],[5.95,0.78],[6.0,0.68],[6.05,0.58],[6.1,0.48],[6.15,0.38],[6.2,0.28],[6.5,0.72],[6.55,0.62],[6.6,0.52],[6.65,0.42],[6.7,0.32],[6.75,0.22],[7.05,0.67],[7.1,0.57],[7.15,0.47],[7.2,0.37],[7.25,0.27],[7.6,0.65],[7.65,0.55],[7.7,0.45],[7.75,0.35],[7.8,0.25],[8.2,0.62],[8.25,0.52],[8.3,0.42],[8.35,0.32],[8.4,0.23],[8.8,0.58],[8.85,0.48],[8.9,0.38],[8.95,0.28],[9.4,0.55],[9.45,0.45],[9.5,0.35],[9.55,0.26],[10.0,0.50],[10.05,0.40],[10.1,0.30],[10.5,0.33],[10.6,0.28]];
var knaCore2 = [[0.35,0.88],[0.55,0.82],[0.8,0.85],[1.1,0.78],[1.3,0.9],[1.45,0.7],[1.7,0.98],[1.85,0.62],[2.05,0.9],[2.3,0.58],[2.45,0.99],[2.6,0.78],[2.75,0.45],[2.95,0.92],[3.1,0.64],[3.25,0.4],[3.45,0.82],[3.6,0.6],[3.75,0.35],[3.95,0.78],[4.15,0.56],[4.25,0.26],[4.45,0.84],[4.6,0.64],[4.75,0.34],[4.95,0.72],[5.2,0.5],[5.3,0.3],[5.5,0.76],[5.75,0.55],[5.85,0.28],[6.1,0.74],[6.3,0.5],[6.4,0.25],[6.7,0.66],[6.9,0.45],[7.0,0.24],[7.3,0.6],[7.45,0.4],[7.9,0.58],[8.05,0.38],[8.55,0.5],[8.6,0.3],[9.15,0.45],[9.25,0.3],[9.7,0.42],[9.85,0.3],[10.3,0.38],[10.7,0.3]];
var knaSpread = [[1.35,1.762],[1.09,1.647],[1.56,1.444],[0.78,1.383],[0.85,1.33],[1.6,1.339],[1.14,1.4],[1.92,1.291],[1.99,1.268],[2.55,1.277],[3.12,1.233],[3.62,1.374],[2.84,1.18],[1.49,1.189],[0.67,1.136],[0.28,1.25],[5.25,1.189],[6.17,1.004],[8.16,0.88],[9.58,0.827],[10.0,0.818],[10.71,0.995],[12.06,0.995],[13.83,1.03],[11.92,0.757],[13.41,0.695],[13.83,0.748],[15.39,0.73],[13.27,0.536],[13.69,0.466],[11.28,0.448],[11.7,0.36],[11.49,0.342],[11.99,0.289],[12.2,0.245],[10.71,0.51],[10.43,0.36],[11.14,0.201],[10.85,0.131],[11.56,0.069],[11.85,0.007],[9.72,0.06],[12.77,0.201],[13.12,0.095],[13.69,0.113],[13.83,0.236],[14.05,0.289],[14.33,0.272],[14.54,0.43],[14.76,0.413],[14.97,0.386],[15.11,0.36],[14.61,0.219],[14.83,0.148],[15.11,0.078],[15.54,0.113],[15.89,0.157],[16.32,0.183],[16.39,0.395],[16.53,0.28],[16.81,0.307],[17.17,0.219],[17.38,0.131],[17.66,0.325],[17.88,0.183],[18.09,0.192],[18.44,0.201],[18.8,0.289],[19.15,0.289],[19.08,0.104],[19.15,0.36],[19.86,0.192],[17.1,0.06],[15.96,0.051],[12.77,0.086],[10.29,0.272],[10.57,0.201],[9.15,0.095],[7.45,0.042],[5.75,0.025],[3.83,0.042],[2.77,0.034],[4.47,0.113],[3.76,0.148],[2.06,0.201],[7.45,0.131],[9.72,0.175],[11.28,0.316],[7.31,0.739],[7.95,0.73],[10.29,0.483],[8.58,0.466],[9.58,0.395],[9.43,0.307],[0.2,1.0],[0.1,0.7],[0.5,0.55],[1.0,0.45],[1.5,0.35],[6.5,0.85],[4.5,1.0],[3.5,1.08],[10.9,0.3],[11.2,0.27],[12.8,0.14],[13.3,0.17]];

// ---- layout ----
var FONT = 'Liberation Sans, Arial, Helvetica, sans-serif';
var colLeft = [61, 552];
var gridW = 491;
var rowTop = [17.5, 395, 772.5, 1150];
var rowH = [377.5, 377.5, 377.5, 378];

var panels = [
  { title: '{t|SiO}{s|2}', col: 0, row: 0, min: 40, max: 90, step: 10, dec: 0, dots: [sio2Core, sio2Core2, sio2Spread], edges: [sio2Outline], runs: sio2Runs },
  { title: '{t|Al}{s|2}{t|O}{s|3}', col: 1, row: 0, min: 10, max: 25, step: 5, dec: 0, dots: [al2o3Core, al2o3Core2, al2o3Spread], edges: [al2o3Outline], runs: al2o3Runs },
  { title: '{t|K}{s|2}{t|O}', col: 0, row: 1, min: 0, max: 8, step: 2, dec: 1, dots: [k2oCore, k2oCore2, k2oSpread], edges: [k2oOutline], runs: k2oRuns },
  { title: '{t|Na}{s|2}{t|O}', col: 1, row: 1, min: 0, max: 8, step: 2, dec: 1, dots: [na2oCore, na2oCore2, na2oSpread], edges: [na2oOutline], runs: na2oRuns, titleRight: true },
  { title: '{t|CaO}', col: 0, row: 2, min: 0, max: 20, step: 5, dec: 1, dots: [caoCore, caoCore2, caoSpread], edges: [caoOutline], runs: caoRuns },
  { title: '{t|Mg#}', col: 1, row: 2, min: 0, max: 80, step: 20, dec: 0, dots: [mgCore, mgCore2, mgSpread], edges: [mgOutline], runs: mgRuns },
  { title: '{t|A/CNK}', col: 0, row: 3, min: 0.4, max: 1.6, step: 0.4, dec: 1, dots: [acnkCore, acnkCore2, acnkSpread], edges: [acnkOutline], runs: acnkRuns, refLine: acnkRef },
  { title: '{t|K/Na}', col: 1, row: 3, min: 0, max: 2, step: 0.5, dec: 1, dots: [knaCore, knaCore2, knaSpread], edges: [knaOutline, knaSmallLoop], runs: knaRuns }
];

var starPath = 'path://M0,-10L2.35,-3.24L9.51,-3.09L3.8,1.24L5.88,8.09L0,4.2L-5.88,8.09L-3.8,1.24L-9.51,-3.09L-2.35,-3.24Z';
var runKeys = ['tr', 'sq', 'di', 'ci', 'st'];
var runShapes = { sq: 'rect', di: 'diamond', tr: 'triangle', ci: 'circle', st: starPath };
var runSizes = { sq: 9.5, di: 12.5, tr: [12.5, 11.5], ci: 10.5, st: 13.5 };

var titleRich = {
  t: { fontSize: 26, lineHeight: 30, fontFamily: FONT, color: '#000' },
  s: { fontSize: 15, lineHeight: 13, verticalAlign: 'bottom', fontFamily: FONT, color: '#000' }
};

var grids = [], xAxes = [], yAxes = [], series = [], titles = [];

panels.forEach(function (p, i) {
  grids.push({
    left: colLeft[p.col], top: rowTop[p.row], width: gridW, height: rowH[p.row],
    show: true, borderColor: '#000', borderWidth: 1.5, backgroundColor: 'transparent'
  });

  var lastRow = p.row === 3;
  xAxes.push({
    gridIndex: i, type: 'value', min: 0, max: 20, interval: 5,
    axisLine: { show: true, onZero: false, lineStyle: { color: '#000', width: 1.5 } },
    axisTick: { show: true, inside: true, length: 8, lineStyle: { color: '#000', width: 1.3 } },
    splitLine: { show: false },
    axisLabel: lastRow ? {
      show: true, margin: 12, fontSize: 17, color: '#000', fontFamily: FONT,
      formatter: function (v) {
        var t = v.toFixed(1);
        if (p.col === 0 && v === 20) return '{r|' + t + '}';
        if (p.col === 1 && v === 0) return '{l|' + t + '}';
        return t;
      },
      rich: {
        r: { fontSize: 17, fontFamily: FONT, color: '#000', padding: [0, 46, 0, 0] },
        l: { fontSize: 17, fontFamily: FONT, color: '#000', padding: [0, 0, 0, 21] }
      }
    } : { show: false }
  });

  var tickVals = [];
  for (var k = 0; p.min + k * p.step <= p.max + 1e-9; k++) {
    var tv = +(p.min + k * p.step).toFixed(6);
    if (k === 0 && p.row < 3) continue;
    if (Math.abs(tv - p.max) < 1e-9 && p.row > 0) continue;
    tickVals.push(tv);
  }

  yAxes.push({
    gridIndex: i, type: 'value', min: p.min, max: p.max, interval: p.step,
    position: p.col === 0 ? 'left' : 'right',
    axisLine: { show: true, lineStyle: { color: '#000', width: 1.5 } },
    axisTick: { show: true, inside: false, length: 8, customValues: tickVals, lineStyle: { color: '#000', width: 1.3 } },
    splitLine: { show: false },
    axisLabel: {
      margin: 13, fontSize: 17, color: '#000', fontFamily: FONT,
      formatter: function (v) {
        var t = p.dec ? v.toFixed(p.dec) : String(Math.round(v));
        if (Math.abs(v - p.min) < 1e-9 && p.row < 3) return '{lo|' + t + '}';
        if (Math.abs(v - p.max) < 1e-9 && p.row > 0) return '{hi|' + t + '}';
        return t;
      },
      rich: {
        lo: { fontSize: 17, fontFamily: FONT, color: '#000', padding: [0, 0, 27, 0] },
        hi: { fontSize: 17, fontFamily: FONT, color: '#000', padding: [31, 0, 0, 0] }
      }
    }
  });

  // shaded band (+ reference line)
  var band = {
    type: 'line', xAxisIndex: i, yAxisIndex: i, data: [], z: 1, silent: true,
    markArea: {
      silent: true, itemStyle: { color: '#efefef', opacity: 1 },
      data: [[{ xAxis: bandRange[0] }, { xAxis: bandRange[1] }]]
    }
  };
  if (p.refLine !== undefined) {
    band.markLine = {
      silent: true, symbol: 'none', label: { show: false },
      lineStyle: { color: '#555', width: 1, type: 'solid' },
      data: [{ yAxis: p.refLine }]
    };
  }
  series.push(band);

  // grey compilation
  series.push({
    type: 'scatter', xAxisIndex: i, yAxisIndex: i, z: 2, silent: true,
    symbol: 'rect', symbolSize: 2.3,
    itemStyle: { color: '#777', opacity: 1 },
    data: [].concat.apply([], p.dots)
  });

  // dashed outlines
  p.edges.forEach(function (edge) {
    series.push({
      type: 'line', xAxisIndex: i, yAxisIndex: i, z: 3, silent: true,
      symbol: 'none', smooth: 0.35,
      lineStyle: { color: '#000', width: 1.1, type: [4, 3] },
      data: edge.concat([edge[0]])
    });
  });

  // experimental runs
  runKeys.forEach(function (key) {
    var data = [];
    compositions.forEach(function (c, ci) {
      var yv = p.runs[key][ci];
      if (yv === null || yv === undefined) return;
      data.push({ value: [runX[key][ci], yv], itemStyle: { color: compColors[ci] } });
    });
    series.push({
      type: 'scatter', xAxisIndex: i, yAxisIndex: i, z: 5, silent: true,
      symbol: runShapes[key], symbolSize: runSizes[key],
      itemStyle: { borderColor: '#000', borderWidth: key === 'st' ? 0.8 : 1, opacity: 1 },
      data: data
    });
  });

  // label boxes
  var tb = {
    text: p.title, top: rowTop[p.row],
    padding: [1, 7, 2, 7], borderColor: '#000', borderWidth: 1, backgroundColor: '#fff',
    textStyle: { fontSize: 26, lineHeight: 30, fontFamily: FONT, color: '#000', fontWeight: 'normal', rich: titleRich }
  };
  if (p.col === 0) tb.right = 1086 - 552;
  else if (p.titleRight) tb.right = 1086 - 1043;
  else tb.left = 552;
  titles.push(tb);
});

// ---- legend table keys (grids 8 & 9) ----
var legendCols = ['sq', 'di', 'tr', 'ci'];
grids.push({ left: 773.3, top: 1205.3, width: 210.7, height: 122, show: false });
grids.push({ left: 984, top: 1205.3, width: 59, height: 122, show: false });
xAxes.push({ gridIndex: 8, type: 'category', data: legendCols, show: false });
yAxes.push({ gridIndex: 8, type: 'category', data: compositions, inverse: true, show: false });
xAxes.push({ gridIndex: 9, type: 'category', data: ['st'], show: false });
yAxes.push({ gridIndex: 9, type: 'category', data: compositions, inverse: true, show: false });

legendCols.concat(['st']).forEach(function (key) {
  series.push({
    type: 'scatter', xAxisIndex: key === 'st' ? 9 : 8, yAxisIndex: key === 'st' ? 9 : 8,
    z: 60, silent: true, symbol: runShapes[key],
    symbolSize: key === 'sq' ? 8.5 : (key === 'ci' ? 9.5 : runSizes[key]),
    itemStyle: { borderColor: '#000', borderWidth: key === 'st' ? 0.8 : 1, opacity: 1 },
    data: compositions.map(function (c, ci) {
      return { value: [key, c], itemStyle: { color: compColors[ci] } };
    })
  });
});

// ---- graphic: table frame, texts, break marks, x title ----
var lineStyle = { stroke: '#000', lineWidth: 1.3 };
var tx = { x0: 691.5, x1: 773.3, x2: 879, x3: 984, x4: 1043, y0: 1150.5, y1: 1177.7, y2: 1205.3, y3: 1327.5 };
function tableText(s, x, y, align) {
  return { type: 'text', x: x, y: y, z: 56, style: { text: s, fill: '#000', font: '18.5px ' + FONT, align: align || 'center', verticalAlign: 'middle' } };
}
var graphics = [
  { type: 'rect', z: 50, shape: { x: tx.x0, y: tx.y0, width: tx.x4 - tx.x0, height: tx.y3 - tx.y0 }, style: { fill: '#fff', stroke: '#000', lineWidth: 1.3 } },
  { type: 'line', z: 55, shape: { x1: tx.x0, y1: tx.y1, x2: tx.x3, y2: tx.y1 }, style: lineStyle },
  { type: 'line', z: 55, shape: { x1: tx.x0, y1: tx.y2, x2: tx.x4, y2: tx.y2 }, style: lineStyle },
  { type: 'line', z: 55, shape: { x1: tx.x1, y1: tx.y0, x2: tx.x1, y2: tx.y3 }, style: lineStyle },
  { type: 'line', z: 55, shape: { x1: tx.x2, y1: tx.y0, x2: tx.x2, y2: tx.y3 }, style: lineStyle },
  { type: 'line', z: 55, shape: { x1: tx.x3, y1: tx.y0, x2: tx.x3, y2: tx.y3 }, style: lineStyle },
  tableText('P (GPa)', 732.5, 1164.5),
  tableText('1.7', 826, 1164.5),
  tableText('1.5', 931.5, 1164.5),
  tableText('T (ºC)', 732.5, 1191.8),
  tableText('1000', 801.7, 1191.8),
  tableText('1100', 849.5, 1191.8),
  tableText('1000', 907.7, 1191.8),
  tableText('1100', 955, 1191.8),
  tableText('Diapir', 1013.5, 1177.5)
];
compositions.forEach(function (c, ci) {
  graphics.push(tableText(c, 696.5, 1218.7 + ci * 24.1, 'left'));
});
// axis break marks
[395, 772.5, 1150].forEach(function (y) {
  graphics.push({ type: 'polyline', z: 20, shape: { points: [[53, y - 7], [61, y], [53, y + 7]] }, style: { stroke: '#000', lineWidth: 1.3, fill: null } });
  graphics.push({ type: 'polyline', z: 20, shape: { points: [[1051, y - 7], [1043, y], [1051, y + 7]] }, style: { stroke: '#000', lineWidth: 1.3, fill: null } });
});
graphics.push({ type: 'polyline', z: 20, shape: { points: [[545, 1535.5], [552, 1528], [559, 1535.5]] }, style: { stroke: '#000', lineWidth: 1.3, fill: null } });
// x-axis title
graphics.push({
  type: 'text', x: 553, y: 1601, z: 20,
  style: {
    text: '{t|FeO}{s|t}{t| + MgO}', align: 'center', verticalAlign: 'middle', fill: '#000',
    rich: {
      t: { fontSize: 28, lineHeight: 32, fontFamily: FONT, fill: '#000' },
      s: { fontSize: 16, lineHeight: 13, verticalAlign: 'bottom', fontFamily: FONT, fill: '#000' }
    }
  }
});

var chart = echarts.init(document.getElementById('chart'), null, { renderer: 'canvas' });
chart.setOption({
  animation: false,
  backgroundColor: '#fff',
  title: titles,
  grid: grids,
  xAxis: xAxes,
  yAxis: yAxes,
  series: series,
  graphic: graphics
});
</script>
</body>
</html>
